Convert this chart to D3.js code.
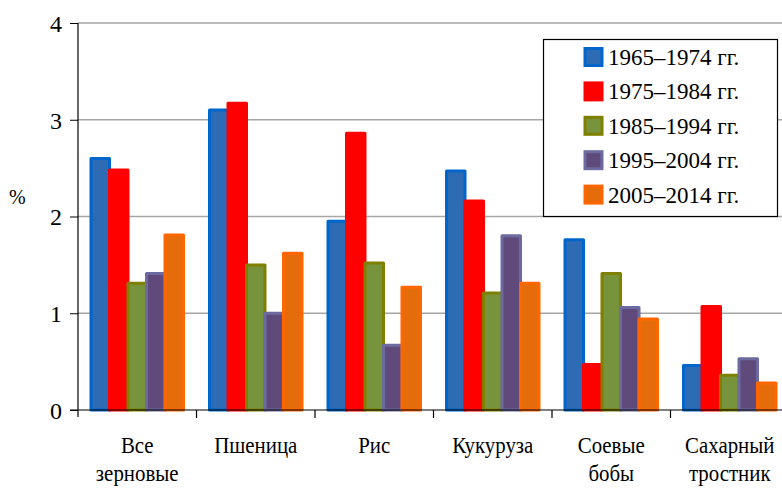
<!DOCTYPE html>
<html><head><meta charset="utf-8">
<script src="https://cdn.jsdelivr.net/npm/d3@7"></script>
</head><body style="margin:0;background:#fff">
<div id="wrap" style="position:relative;width:782px;height:489px;font-family:'Liberation Serif',serif">
<svg id="c" width="782" height="489" style="position:absolute;left:0;top:0"></svg>
</div>
<script>
const categories = [["Все","зерновые"],["Пшеница"],["Рис"],["Кукуруза"],["Соевые","бобы"],["Сахарный","тростник"]];
const seriesNames = ["1965–1974 гг.","1975–1984 гг.","1985–1994 гг.","1995–2004 гг.","2005–2014 гг."];
const s1965 = [2.60, 3.10, 1.95, 2.47, 1.76, 0.46];
const s1975 = [2.48, 3.17, 2.86, 2.16, 0.47, 1.07];
const s1985 = [1.31, 1.50, 1.52, 1.21, 1.41, 0.36];
const s1995 = [1.41, 1.00, 0.67, 1.80, 1.06, 0.53];
const s2005 = [1.81, 1.62, 1.27, 1.31, 0.94, 0.28];
const yTicks = [0,1,2,3,4];
const fills = ["#2E6BB5","#FF0000","#77933C","#604A7B","#E46C0A"];
const strokes = ["#0066CC","#FF0000","#808000","#6B6BA0","#FF6600"];

const series = [s1965,s1975,s1985,s1995,s2005];
const svg = d3.select("#c");
const mL = 78, mR = 789, mT = 23, mB = 410;
const catIdx = categories.map((d,i)=>i);
const x0 = d3.scaleBand().domain(catIdx).range([mL,mR]);
const x1 = d3.scaleBand().domain(d3.range(5)).range([13, x0.bandwidth()-13]);
const y = d3.scaleLinear().domain([0,4]).range([mB,mT]);

svg.append("g").selectAll("line").data(yTicks.filter(t=>t>0)).join("line")
  .attr("x1",mL).attr("x2",782).attr("y1",d=>y(d)).attr("y2",d=>y(d))
  .attr("stroke","#A6A6A6").attr("stroke-width",1.5);

series.forEach((vals,si)=>{
  svg.append("g").selectAll("rect").data(vals).join("rect")
    .attr("x",(d,i)=>x0(i)+x1(si)).attr("width",x1.bandwidth())
    .attr("y",d=>y(d)).attr("height",d=>y(0)-y(d))
    .attr("fill",fills[si]).attr("stroke",strokes[si]).attr("stroke-width",3)
    .attr("stroke-linejoin","round");
});

// y axis (ticks from d3 axis, labels as text)
const ya = d3.axisLeft(y).tickValues(yTicks).tickSize(8).tickFormat(d3.format("d"));
const gy = svg.append("g").attr("transform",`translate(${mL},0)`).call(ya);
gy.attr("font-family","Liberation Serif").attr("font-size",24);
gy.select(".domain").remove();
gy.selectAll(".tick line").attr("stroke","#000");
gy.selectAll(".tick text").attr("fill","#000").attr("x",-16).attr("dy","0.35em")
  .attr("font-family","Liberation Serif").attr("font-size",24);
svg.append("line").attr("x1",mL).attr("x2",mL).attr("y1",mT).attr("y2",mB+7).attr("stroke","#000").attr("stroke-width",1.2);

svg.append("line").attr("x1",mL-8).attr("x2",782).attr("y1",mB).attr("y2",mB).attr("stroke","#000").attr("stroke-width",1.2);
svg.append("g").selectAll("line").data(catIdx.slice(1)).join("line")
  .attr("x1",d=>x0(d)).attr("x2",d=>x0(d)).attr("y1",mB).attr("y2",mB+8).attr("stroke","#000").attr("stroke-width",1.2);

// category labels
const cl = svg.append("g").selectAll("text").data(categories).join("text")
  .attr("text-anchor","middle").attr("font-family","Liberation Serif").attr("font-size",22).attr("fill","#000")
  .attr("transform",(d,i)=>`translate(${x0(i)+x0.bandwidth()/2},453) scale(0.95,1.08)`);
cl.selectAll("tspan").data(d=>d).join("tspan").attr("x",0).attr("dy",(d,i)=>i?26:0).text(d=>d);

svg.append("text").attr("x",9).attr("y",204).attr("font-family","Liberation Serif").attr("font-size",20).attr("fill","#000").text("%");

const lg = svg.append("g");
lg.append("rect").attr("x",543.5).attr("y",39.5).attr("width",234).attr("height",177)
  .attr("fill","#fff").attr("stroke","#000").attr("stroke-width",1.2);
seriesNames.forEach((n,i)=>{
  const cy = 57 + i*34.4;
  lg.append("rect").attr("x",585).attr("y",cy-8.5).attr("width",17).attr("height",17)
    .attr("fill",fills[i]).attr("stroke",strokes[i]).attr("stroke-width",3);
  lg.append("text").attr("x",608).attr("y",cy).attr("dy","0.35em").attr("font-family","Liberation Serif").attr("font-size",23).attr("fill","#000").text(n);
});
</script>
</body></html>
